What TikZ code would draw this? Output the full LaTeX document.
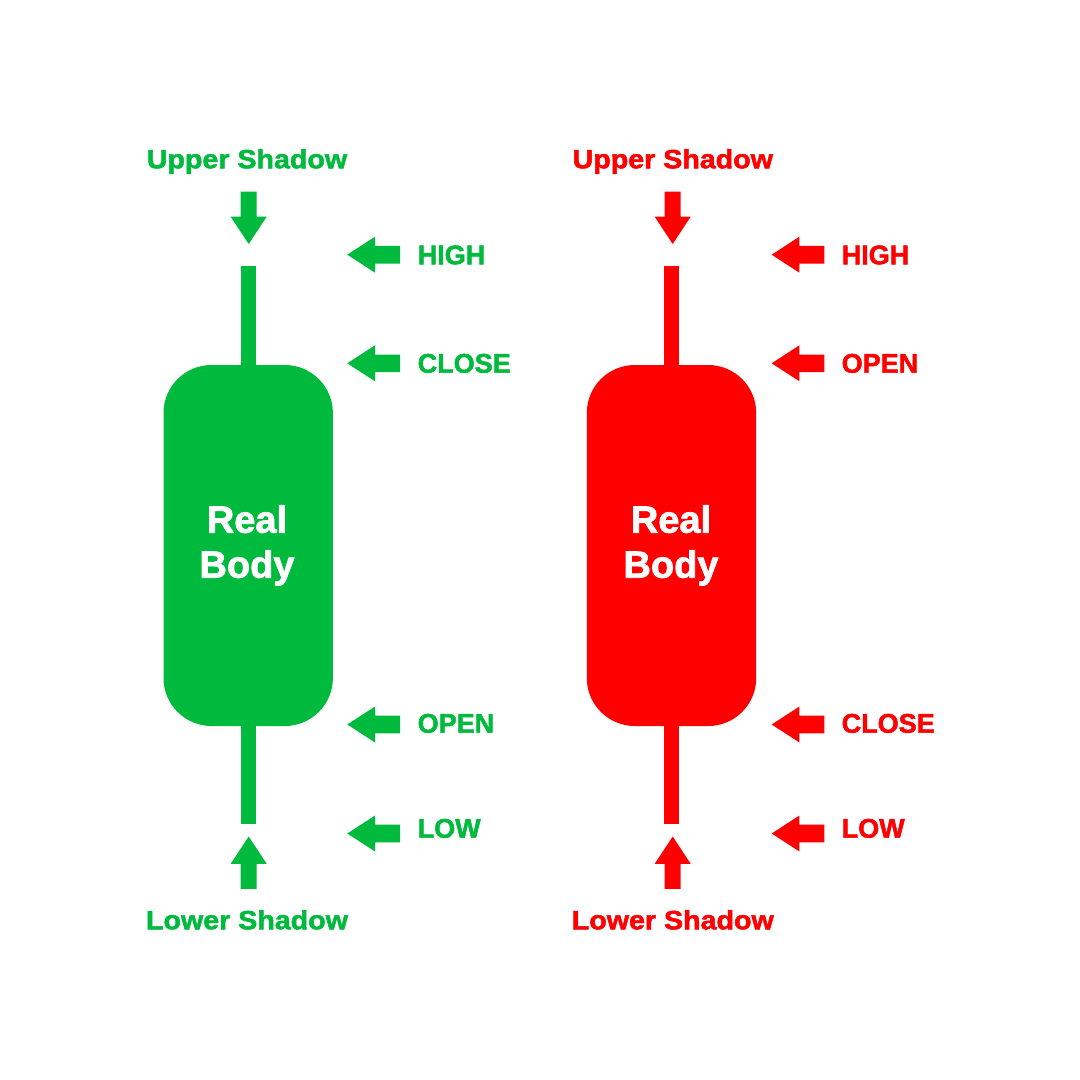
\documentclass[tikz,border=0pt]{standalone}
\usepackage{fontspec}
\setmainfont{Liberation Sans}[BoldFeatures={FakeBold=1.8}]
\definecolor{bull}{HTML}{00BA3E}
\definecolor{bear}{HTML}{FF0000}
\tikzset{
  lbl/.style={font=\fontsize{27}{30}\selectfont\bfseries, inner sep=0pt, anchor=base west},
  shadowlbl/.style={font=\fontsize{26.5}{30}\selectfont\bfseries, inner sep=0pt, xscale=1.08, anchor=base},
  bodytxt/.style={font=\fontsize{38}{45}\selectfont\bfseries, inner sep=0pt, text=white, anchor=base},
  candlebody/.style={rectangle, rounded corners=48pt, minimum width=169.4pt, minimum height=361pt, inner sep=0pt, draw=none},
  wick/.style={rectangle, minimum width=15pt, minimum height=558pt, inner sep=0pt, draw=none},
  leftptr/.pic={\fill (0,0) -- (27.7,-18) -- (27.7,-8.8) -- (52.7,-8.8) -- (52.7,8.8) -- (27.7,8.8) -- (27.7,18) -- cycle;},
  downptr/.pic={\fill (0,0) -- (18,-27.3) -- (8,-27.3) -- (8,-52.3) -- (-8,-52.3) -- (-8,-27.3) -- (-18,-27.3) -- cycle;},
}
\begin{document}
\begin{tikzpicture}[x=1pt,y=-1pt]
\useasboundingbox[fill=white] (0,0) rectangle (1080,1080);

% ---------- bullish (green) candle ----------
\node[wick, fill=bull] (gwick) at (248.5,545) {};
\node[candlebody, fill=bull] (gbody) at (248.2,545.5) {};
\node[bodytxt] (greal) at (247,532.7) {Real};
\node[bodytxt] (gbodyt) at (247,577.7) {Body};
\node[shadowlbl, text=bull] (gup) at (247,168.3) {Upper Shadow};
\node[shadowlbl, text=bull] (glow) at (247,929.3) {Lower Shadow};
\pic[color=bull] (gupar) at (248.7,244) {downptr};
\pic[color=bull, yscale=-1] (glowar) at (248.7,836.5) {downptr};
\pic[color=bull] (gp1) at (347.3,254.7) {leftptr};
\pic[color=bull] (gp2) at (347.3,363.3) {leftptr};
\pic[color=bull] (gp3) at (347.3,724.5) {leftptr};
\pic[color=bull] (gp4) at (347.3,833.5) {leftptr};
\node[lbl, text=bull] (ghigh) at (417.5,264.3) {HIGH};
\node[lbl, text=bull] (gclose) at (417.5,372.7) {CLOSE};
\node[lbl, text=bull] (gopen) at (417.5,732.7) {OPEN};
\node[lbl, text=bull] (glowl) at (417.5,837.7) {LOW};

% ---------- bearish (red) candle ----------
\node[wick, fill=bear] (rwick) at (671.8,545) {};
\node[candlebody, fill=bear] (rbody) at (671.5,545.5) {};
\node[bodytxt] (rreal) at (671,532.7) {Real};
\node[bodytxt] (rbodyt) at (671,577.7) {Body};
\node[shadowlbl, text=bear] (rup) at (672.8,168.3) {Upper Shadow};
\node[shadowlbl, text=bear] (rlow) at (672.8,929.3) {Lower Shadow};
\pic[color=bear] (rupar) at (672.7,244) {downptr};
\pic[color=bear, yscale=-1] (rlowar) at (672.7,836.5) {downptr};
\pic[color=bear] (rp1) at (771.7,254.7) {leftptr};
\pic[color=bear] (rp2) at (771.7,363.3) {leftptr};
\pic[color=bear] (rp3) at (771.7,724.5) {leftptr};
\pic[color=bear] (rp4) at (771.7,833.5) {leftptr};
\node[lbl, text=bear] (rhigh) at (841.5,264.3) {HIGH};
\node[lbl, text=bear] (ropen) at (841.5,372.7) {OPEN};
\node[lbl, text=bear] (rclose) at (841.5,732.7) {CLOSE};
\node[lbl, text=bear] (rlowl) at (841.5,837.7) {LOW};
\end{tikzpicture}
\end{document}
